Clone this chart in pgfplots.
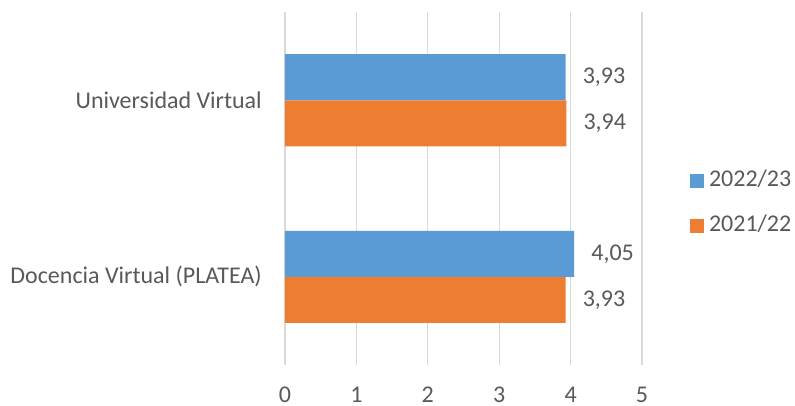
\documentclass[border=0pt]{standalone}
\usepackage{fontspec}
\setmainfont{Carlito}
\usepackage{pgfplots}
\pgfplotsset{compat=1.18}
\definecolor{cblue}{HTML}{5B9BD5}
\definecolor{corange}{HTML}{ED7D31}
\definecolor{ctext}{HTML}{595959}
\definecolor{cgrid}{HTML}{D9D9D9}
\begin{document}
\begin{tikzpicture}
\useasboundingbox (0,0) rectangle (795pt,405pt);
\begin{axis}[
  at={(285pt,40pt)}, anchor=south west,
  scale only axis, width=357pt, height=353pt,
  xbar, bar width=46pt,
  xmin=0, xmax=5, ymin=-0.5, ymax=1.5,
  xtick={0,1,2,3,4,5},
  ytick={0,1},
  yticklabels={Docencia Virtual (PLATEA),Universidad Virtual},
  axis line style={draw=none},
  major tick length=0pt,
  xmajorgrids, grid style={cgrid, line width=1.3pt},
  font=\fontsize{24}{28}\selectfont\color{ctext},
  xticklabel style={inner sep=0pt, anchor=north, yshift=-21.5pt,
    /pgf/number format/assume math mode=true},
  yticklabel style={inner sep=0pt, anchor=east, xshift=-23pt},
  point meta=x,
  nodes near coords={\pgfmathprintnumber[use comma,fixed,fixed zerofill,precision=2,assume math mode=true]{\pgfplotspointmeta}},
  every node near coord/.append style={anchor=west, inner sep=0pt, xshift=17pt, text=ctext},
  legend style={at={(1.134,0.457)}, anchor=west, draw=none, fill=none,
    inner sep=0pt, row sep=24pt, column sep=5pt,
    nodes={inner sep=0pt, anchor=west, text=ctext, text height=16pt, text depth=5pt}},
  legend cell align=left,
  legend image code/.code={\fill[#1] (0pt,-7pt) rectangle (14pt,7pt);},
]
\addplot[fill=cblue, draw=none, bar shift=23pt] coordinates {(4.05,0) (3.93,1)};
\addlegendentry{2022/23}
\addplot[fill=corange, draw=none, bar shift=-23pt] coordinates {(3.93,0) (3.94,1)};
\addlegendentry{2021/22}
\end{axis}
\end{tikzpicture}
\end{document}
